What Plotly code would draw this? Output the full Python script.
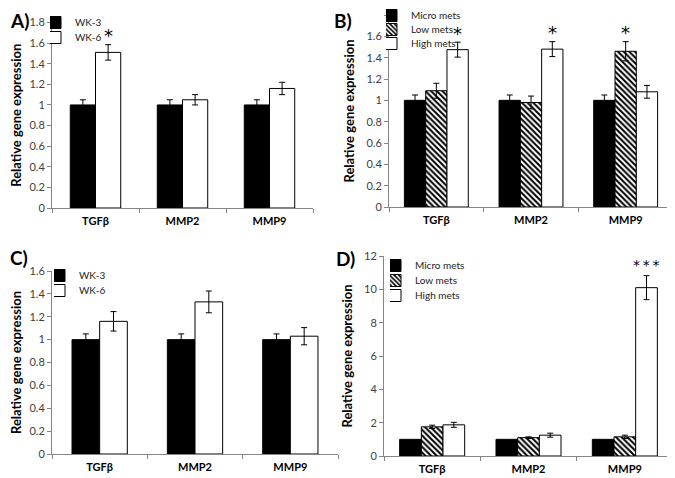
import plotly.graph_objects as go

genes = ["TGFβ", "MMP2", "MMP9"]

# Panel A
a_wk3 = [1.0, 1.0, 1.0]
a_wk3_err = [0.05, 0.05, 0.05]
a_wk6 = [1.51, 1.05, 1.16]
a_wk6_err = [0.075, 0.05, 0.06]

# Panel B
b_micro = [1.0, 1.0, 1.0]
b_micro_err = [0.05, 0.05, 0.05]
b_low = [1.09, 0.98, 1.46]
b_low_err = [0.07, 0.06, 0.09]
b_high = [1.475, 1.48, 1.08]
b_high_err = [0.07, 0.07, 0.06]

# Panel C
c_wk3 = [1.0, 1.0, 1.0]
c_wk3_err = [0.05, 0.05, 0.05]
c_wk6 = [1.16, 1.33, 1.03]
c_wk6_err = [0.085, 0.095, 0.075]

# Panel D
d_micro = [1.0, 1.0, 1.0]
d_micro_err = [0.0, 0.0, 0.0]
d_low = [1.75, 1.1, 1.15]
d_low_err = [0.1, 0.05, 0.1]
d_high = [1.87, 1.25, 10.1]
d_high_err = [0.15, 0.12, 0.72]

# significance marks: (panel, series index, category index, text)
sig_marks = [
    ("A", 1, 0, "*"),
    ("B", 2, 0, "*"),
    ("B", 2, 1, "*"),
    ("B", 1, 2, "*"),
    ("D", 2, 2, "*\u2009*\u2009*"),
]

FONT = "Lato"
GRAY = "#868686"
TICKC = "#404040"

# page has an 8px body margin: figure sized to fill the remaining window
OFF = 8
W, H = 675 - OFF, 478 - OFF


def PX(p):
    return (p - OFF) / W


def PY(p):
    return 1 - (p - OFF) / H


fig = go.Figure()

panels = {
    "A": dict(ax="", xd=[52, 313], yd=[208, 22.5], rng=[0, 1.8], dt=0.2, leg_x=56, leg_y=[22, 37],
              series=[("WK-3", a_wk3, a_wk3_err, "solid"), ("WK-6", a_wk6, a_wk6_err, "white")], bw=0.29),
    "B": dict(ax="2", xd=[389, 673], yd=[207, 15], rng=[0, 1.8], dt=0.2, leg_x=392, leg_y=[15, 29, 43],
              series=[("Micro mets", b_micro, b_micro_err, "solid"), ("Low mets", b_low, b_low_err, "hatch"),
                      ("High mets", b_high, b_high_err, "white")], bw=0.225),
    "C": dict(ax="3", xd=[52, 338], yd=[454, 271], rng=[0, 1.6], dt=0.2, leg_x=60, leg_y=[275, 290],
              series=[("WK-3", c_wk3, c_wk3_err, "solid"), ("WK-6", c_wk6, c_wk6_err, "white")], bw=0.29),
    "D": dict(ax="4", xd=[384, 673], yd=[456, 256], rng=[0, 12], dt=2, leg_x=396, leg_y=[265, 280, 295],
              series=[("Micro mets", d_micro, d_micro_err, "solid"), ("Low mets", d_low, d_low_err, "hatch"),
                      ("High mets", d_high, d_high_err, "white")], bw=0.225),
}

leg_count = 0
legend_layouts = {}
for key, p in panels.items():
    n = len(p["series"])
    bw = p["bw"]
    p["offsets"] = [-n * bw / 2 + i * bw for i in range(n)]
    for i, (name, vals, errs, style) in enumerate(p["series"]):
        marker = dict(line=dict(color="black", width=1))
        if style == "solid":
            marker["color"] = "black"
        elif style == "white":
            marker["color"] = "white"
        else:
            marker["color"] = "white"
            marker["pattern"] = dict(shape="\\", fgcolor="black", bgcolor="white", size=4, solidity=0.5,
                                     fillmode="replace")
        leg_count += 1
        lg = "legend" if leg_count == 1 else "legend%d" % leg_count
        # one legend per entry so the rows can sit as close as in the original
        legend_layouts[lg] = dict(
            x=PX(p["leg_x"] - 6), y=PY(p["leg_y"][i] - 14), xanchor="left", yanchor="top",
            bgcolor="rgba(0,0,0,0)", font=dict(family=FONT, size=10, color="#222"),
            itemwidth=30, indentation=-15, maxheight=400)
        show_err = any(e > 0 for e in errs)
        fig.add_trace(go.Bar(
            x=genes, y=vals, name=name, marker=marker,
            width=bw, offset=p["offsets"][i],
            error_y=dict(type="data", array=errs, visible=show_err, color="black", thickness=1, width=3),
            xaxis="x" + p["ax"], yaxis="y" + p["ax"], legend=lg,
        ))

    fig.update_layout(**{
        "xaxis" + p["ax"]: dict(domain=[PX(p["xd"][0]), PX(p["xd"][1])], anchor="y" + p["ax"], type="category",
                                showline=True, linecolor=GRAY, linewidth=1, ticks="outside",
                                tickson="boundaries", ticklen=4, tickcolor=GRAY, ticklabelstandoff=3,
                                tickfont=dict(family=FONT, size=11, color="black", weight="bold"),
                                showgrid=False, zeroline=False, range=[-0.5, 2.5]),
        "yaxis" + p["ax"]: dict(domain=[PY(p["yd"][0]), PY(p["yd"][1])], anchor="x" + p["ax"],
                                range=p["rng"], dtick=p["dt"],
                                showline=True, linecolor=GRAY, linewidth=1, ticks="outside", ticklen=4,
                                tickcolor=GRAY, showgrid=False, zeroline=False,
                                tickfont=dict(family=FONT, size=11, color=TICKC),
                                title=dict(text="Relative gene expression", standoff=8,
                                           font=dict(family=FONT, size=13, color="black", weight="bold"))),
    })

fig.update_layout(**legend_layouts)

annotations = []
for key, si, ci, txt in sig_marks:
    p = panels[key]
    name, vals, errs, style = p["series"][si]
    xc = ci + p["offsets"][si] + p["bw"] / 2
    big = len(txt) == 1
    annotations.append(dict(x=xc, y=vals[ci] + errs[ci], xref="x" + p["ax"], yref="y" + p["ax"],
                            text=txt, showarrow=False, yanchor="middle", yshift=9 if big else 11,
                            font=dict(family="DejaVu Sans", size=18 if big else 14, color="black")))

panel_labels = [("A)", 8, 21), ("B)", 332, 21), ("C)", 8, 257), ("D)", 334, 258)]
for txt, px, py in panel_labels:
    annotations.append(dict(x=PX(px), y=PY(py), xref="paper", yref="paper", text="<b>%s</b>" % txt,
                            showarrow=False, xanchor="left", yanchor="middle",
                            font=dict(family=FONT, size=19, color="black")))

fig.update_layout(width=W, height=H, margin=dict(l=0, r=0, t=0, b=0, autoexpand=False),
                  paper_bgcolor="white", plot_bgcolor="white", barmode="overlay",
                  annotations=annotations, showlegend=True)

fig.write_html("out.html")
